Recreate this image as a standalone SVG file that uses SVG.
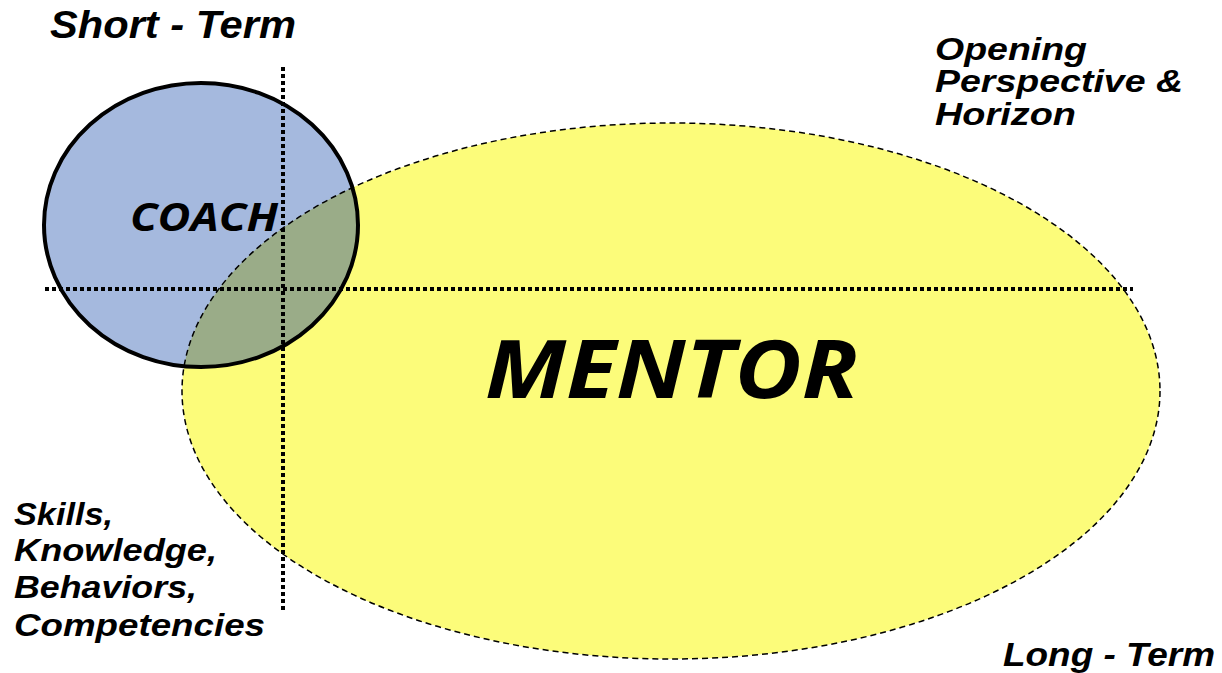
<svg xmlns="http://www.w3.org/2000/svg" width="1222" height="673" viewBox="0 0 1222 673">
<style>
.lbl{font-family:"Liberation Sans",Arial,sans-serif;font-weight:bold;font-style:italic;fill:#000}
.big{font-family:"Open Sans","Liberation Sans",sans-serif;font-weight:bold;font-style:italic;fill:#000}
.dot{stroke:#000;stroke-width:4;stroke-dasharray:4 3;fill:none}
</style>
<defs>
<clipPath id="coachClip"><ellipse cx="201" cy="225" rx="157" ry="142"/></clipPath>
</defs>
<rect width="1222" height="673" fill="#fff"/>
<g id="mentor">
<ellipse cx="671" cy="391" rx="489" ry="268" fill="#fcfc7a"/>
</g>
<g id="coach">
<ellipse cx="201" cy="225" rx="157" ry="142" fill="#a5b9de"/>
<ellipse cx="671" cy="391" rx="489" ry="268" fill="#9aac88" clip-path="url(#coachClip)"/>
<ellipse cx="671" cy="391" rx="489" ry="268" fill="none" stroke="#000" stroke-width="1.5" stroke-dasharray="6 4"/>
<ellipse cx="201" cy="225" rx="157" ry="142" fill="none" stroke="#000" stroke-width="4"/>
<text class="big" x="130" y="231" font-size="40" textLength="148" lengthAdjust="spacingAndGlyphs">COACH</text>
</g>
<g id="mentor-label">
<text class="big" x="485" y="398" font-size="81" textLength="373" lengthAdjust="spacingAndGlyphs">MENTOR</text>
</g>
<g id="connectors">
<line class="dot" x1="45" y1="289" x2="1133" y2="289"/>
<line class="dot" x1="283" y1="67" x2="283" y2="610"/>
</g>
<g id="labels">
<text class="lbl" x="50" y="38" font-size="38" textLength="246" lengthAdjust="spacingAndGlyphs">Short - Term</text>
<text class="lbl" x="935" y="60" font-size="31" textLength="152" lengthAdjust="spacingAndGlyphs">Opening</text>
<text class="lbl" x="935" y="92" font-size="31" textLength="248" lengthAdjust="spacingAndGlyphs">Perspective &amp;</text>
<text class="lbl" x="935" y="125" font-size="31" textLength="141" lengthAdjust="spacingAndGlyphs">Horizon</text>
<text class="lbl" x="14" y="525" font-size="31" textLength="99" lengthAdjust="spacingAndGlyphs">Skills,</text>
<text class="lbl" x="14" y="561" font-size="31" textLength="203" lengthAdjust="spacingAndGlyphs">Knowledge,</text>
<text class="lbl" x="14" y="598" font-size="31" textLength="183" lengthAdjust="spacingAndGlyphs">Behaviors,</text>
<text class="lbl" x="14" y="636" font-size="31" textLength="251" lengthAdjust="spacingAndGlyphs">Competencies</text>
<text class="lbl" x="1003" y="666" font-size="33" textLength="212" lengthAdjust="spacingAndGlyphs">Long - Term</text>
</g>
</svg>
